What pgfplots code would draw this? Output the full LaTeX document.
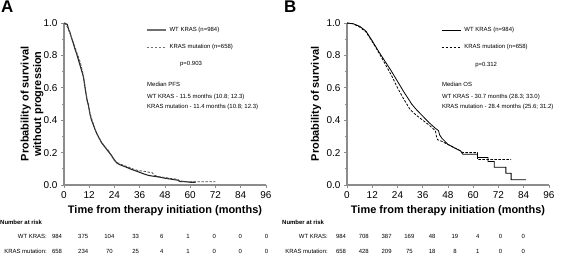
\documentclass[border=0pt]{standalone}
\usepackage{pgfplots}
\pgfplotsset{compat=1.18}
\usepackage{fontspec}
\setmainfont{Liberation Sans}
\definecolor{axgray}{HTML}{8C8C8C}
\definecolor{lgray}{HTML}{707070}
\begin{document}
\begin{tikzpicture}
\path[use as bounding box] (0bp,0bp) rectangle (566bp,-257bp);
\pgfplotsset{km/.style={
  scale only axis, width=202bp, height=162bp,
  xmin=0, xmax=96, ymin=0, ymax=1,
  axis lines=left,
  axis line style={-, draw=axgray, line width=1.4bp},
  xtick={0,12,24,36,48,60,72,84,96},
  ytick={0,0.2,0.4,0.6,0.8,1.0},
  minor ytick={0.1,0.3,0.5,0.7,0.9},
  tick align=outside, major tick length=3bp, minor tick length=2bp,
  tick style={draw=axgray, line width=0.8bp},
  yticklabel style={/pgf/number format/.cd, fixed, fixed zerofill, precision=1},
  /pgf/number format/assume math mode=true,
  ticklabel style={font=\fontsize{10}{12}\selectfont},
  clip=false,
  xlabel={Time from therapy initiation (months)},
  xlabel style={at={(axis description cs:0.5,0)}, anchor=center, yshift=-26bp, font=\fontsize{11}{13}\selectfont\bfseries},
  ylabel style={at={(axis description cs:0,0.5)}, anchor=center, align=center, font=\fontsize{11}{12.5}\selectfont\bfseries},
  legend cell align=left,
  legend style={draw=none, fill=none, anchor=north west, inner sep=0pt,
    font=\fontsize{6}{7}\selectfont, row sep=8.5bp, column sep=2bp,
    nodes={inner sep=1.5bp}},
}}
% ---------- Panel A ----------
\begin{axis}[km, at={(64bp,-185bp)}, anchor=south west,
  ylabel={Probability of survival\\without progression},
  ylabel style={yshift=32bp},
  legend image code/.code={\draw[#1, draw=lgray] (0bp,0bp) -- (19bp,0bp);},
  legend style={at={(axis description cs:0.405,0.985)}}]
\addplot[color=black!85, line width=1.1bp] coordinates {
(0,1)(1,0.995)(1.6,0.99)(2.2,0.96)(2.9,0.94)(3.5,0.91)(4.4,0.875)(5.2,0.84)
(6,0.81)(6.8,0.775)(7.6,0.74)(8.4,0.705)(9.2,0.67)(10,0.60)(10.5,0.56)
(11.1,0.516)(11.5,0.5)(12.4,0.434)(13.1,0.40)(13.9,0.373)(14.7,0.345)
(15.5,0.32)(16.7,0.29)(17.9,0.26)(19.1,0.24)(20.3,0.22)(21.5,0.20)
(22.7,0.18)(23.8,0.158)(25,0.137)(26.6,0.125)(28.2,0.117)(30,0.108)
(31.4,0.10)(33,0.092)(35,0.083)(36,0.078)(38,0.068)(40,0.06)(42,0.055)
(44,0.052)(46,0.047)(48,0.042)(50,0.038)(52,0.034)(54,0.03)(55,0.022)
(58,0.02)(60,0.017)(62.5,0.017)};
\addlegendentry{WT KRAS (n=984)}
\addplot[color=black!70, line width=0.8bp, dash pattern=on 2.5bp off 1.5bp] coordinates {
(0,1)(1,0.99)(2,0.965)(3,0.93)(4,0.895)(5,0.86)(6,0.82)(7,0.785)(8,0.745)
(9,0.69)(10,0.61)(11,0.52)(11.4,0.5)(12,0.46)(13,0.415)(14,0.375)(15,0.335)
(16,0.305)(17,0.28)(18,0.262)(19,0.245)(20,0.228)(21,0.215)(22,0.195)
(23,0.17)(24,0.15)(25,0.14)(27,0.128)(29,0.118)(31,0.108)(33,0.098)
(35,0.09)(36,0.088)(38,0.085)(40,0.08)(42,0.075)(43,0.06)(45,0.052)
(48,0.046)(51,0.04)(54,0.035)(55,0.025)(60,0.02)(62,0.02)(72,0.02)};
\addlegendentry{KRAS mutation (n=658)}
\node[anchor=west, font=\fontsize{6}{7}\selectfont, inner sep=0pt] at (axis description cs:0.574,0.747) {p=0.903};
\node[anchor=west, font=\fontsize{6}{7}\selectfont, inner sep=0pt] at (axis description cs:0.411,0.623) {Median PFS};
\node[anchor=west, font=\fontsize{6}{7}\selectfont, inner sep=0pt] at (axis description cs:0.411,0.543) {WT KRAS - 11.5 months (10.8; 12.3)};
\node[anchor=west, font=\fontsize{6}{7}\selectfont, inner sep=0pt] at (axis description cs:0.411,0.481) {KRAS mutation - 11.4 months (10.8; 12.3)};
\end{axis}
% ---------- Panel B ----------
\begin{axis}[km, at={(347bp,-185bp)}, anchor=south west,
  ylabel={Probability of survival},
  ylabel style={yshift=31bp},
  legend image code/.code={\draw[#1] (0bp,0bp) -- (19bp,0bp);},
  legend style={at={(axis description cs:0.465,0.985)}}]
\addplot[color=black, line width=0.8bp] coordinates {
(0,1)(3,0.995)(6,0.98)(9,0.95)(12,0.89)(15,0.825)(18,0.765)(21,0.705)
(24,0.64)(27,0.575)(30,0.515)(30.7,0.5)(33,0.465)(36,0.425)(39,0.385)
(42,0.35)(43.5,0.335)(44,0.31)(45,0.29)(46.5,0.27)(48,0.25)(51,0.23)
(54,0.21)(55,0.19)(62,0.19)(62,0.17)(67,0.17)(67,0.145)(70,0.145)(70,0.11)
(75.5,0.11)(75.5,0.072)(78,0.072)(78,0.033)(85,0.033)};
\addlegendentry{WT KRAS (n=984)}
\addplot[color=black, line width=0.8bp, dash pattern=on 2.5bp off 1.5bp] coordinates {
(0,1)(3,0.995)(6,0.975)(9,0.945)(12,0.885)(15,0.82)(18,0.75)(21,0.68)
(24,0.60)(27,0.53)(28.4,0.5)(30,0.465)(33,0.43)(36,0.40)(39,0.37)(42,0.335)
(42.5,0.30)(43,0.28)(45,0.27)(48,0.25)(51,0.23)(54,0.21)(55,0.2)(62,0.2)
(62,0.158)(78,0.158)};
\addlegendentry{KRAS mutation (n=658)}
\node[anchor=west, font=\fontsize{6}{7}\selectfont, inner sep=0pt] at (axis description cs:0.634,0.741) {p=0.312};
\node[anchor=west, font=\fontsize{6}{7}\selectfont, inner sep=0pt] at (axis description cs:0.47,0.623) {Median OS};
\node[anchor=west, font=\fontsize{6}{7}\selectfont, inner sep=0pt] at (axis description cs:0.47,0.543) {WT KRAS - 30.7 months (28.3; 33.0)};
\node[anchor=west, font=\fontsize{6}{7}\selectfont, inner sep=0pt] at (axis description cs:0.47,0.481) {KRAS mutation - 28.4 months (25.6; 31.2)};
\end{axis}
% ---------- Panel letters ----------
\node[font=\fontsize{17}{18}\selectfont\bfseries, anchor=north west, inner sep=0pt] at (1bp,-1bp) {A};
\node[font=\fontsize{17}{18}\selectfont\bfseries, anchor=north west, inner sep=0pt] at (284bp,-1bp) {B};
% ---------- Number at risk ----------
\begin{scope}[x=1bp, y=1bp, every node/.style={font=\fontsize{6}{7}\selectfont, inner sep=0pt}]
\node[anchor=west, font=\fontsize{6}{7}\selectfont\bfseries] at (0,-222) {Number at risk};
\node[anchor=east] at (47,-236) {WT KRAS:};
\node[anchor=east] at (47,-251) {KRAS mutation:};
\foreach \v [count=\i from 0] in {984,375,104,33,6,1,0,0,0} {\node at (57+26.2*\i,-236) {\v};}
\foreach \v [count=\i from 0] in {658,234,70,25,4,1,0,0,0} {\node at (57+26.2*\i,-251) {\v};}
\node[anchor=west, font=\fontsize{6}{7}\selectfont\bfseries] at (282,-222) {Number at risk};
\node[anchor=east] at (328,-236) {WT KRAS:};
\node[anchor=east] at (328,-251) {KRAS mutation:};
\foreach \v [count=\i from 0] in {984,708,387,169,48,19,4,0,0} {\node at (341+22.8*\i,-236) {\v};}
\foreach \v [count=\i from 0] in {658,428,209,75,18,8,1,0,0} {\node at (341+22.8*\i,-251) {\v};}
\end{scope}
\end{tikzpicture}
\end{document}
